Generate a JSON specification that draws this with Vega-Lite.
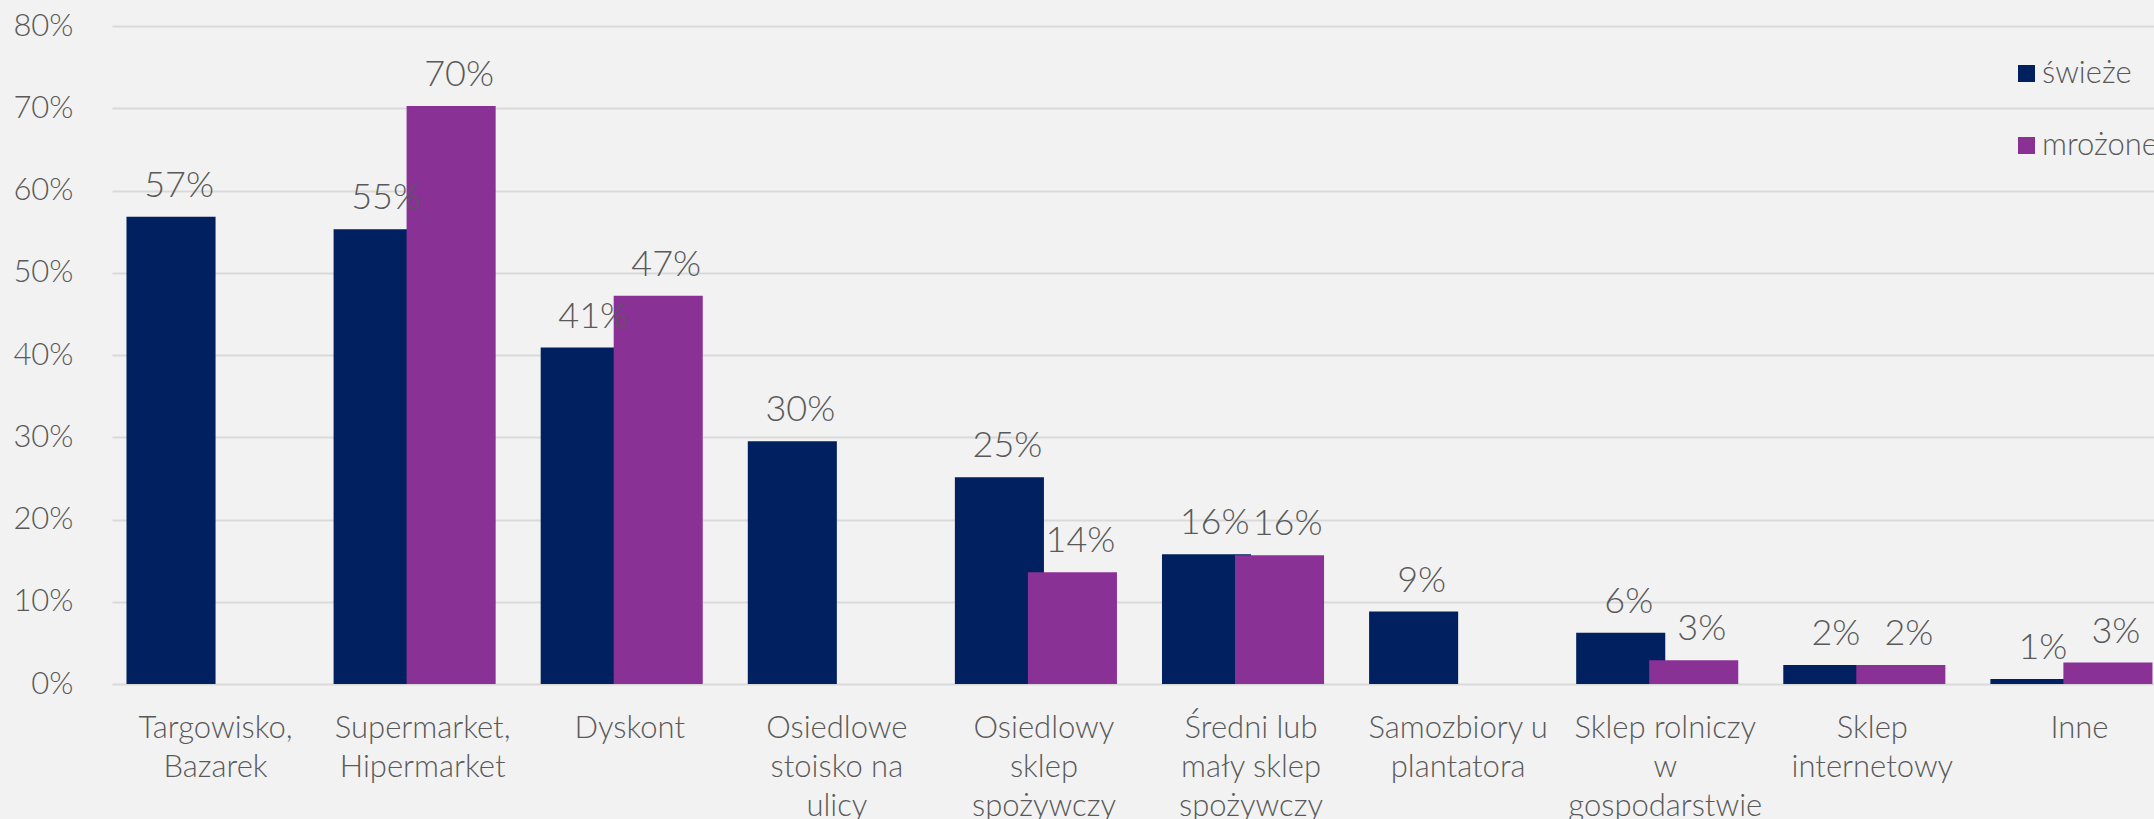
{
  "$schema": "https://vega.github.io/schema/vega-lite/v6.json",
  "autosize": {"type": "none"},
  "padding": {"left": 105, "top": 26, "right": 0, "bottom": 135},
  "width": 2049,
  "height": 658,
  "background": "#f2f2f2",
  "config": {
    "view": {"stroke": null},
    "font": "'Lato Light', Lato",
    "text": {"font": "'Lato Light', Lato"}
  },
  "data": {
    "values": [
      {"kategoria": "Targowisko,\nBazarek", "seria": "świeże", "udzial": 0.568},
      {"kategoria": "Supermarket,\nHipermarket", "seria": "świeże", "udzial": 0.553},
      {"kategoria": "Dyskont", "seria": "świeże", "udzial": 0.409},
      {"kategoria": "Osiedlowe\nstoisko na\nulicy", "seria": "świeże", "udzial": 0.295},
      {"kategoria": "Osiedlowy\nsklep\nspożywczy", "seria": "świeże", "udzial": 0.2515},
      {"kategoria": "Średni lub\nmały sklep\nspożywczy", "seria": "świeże", "udzial": 0.1577},
      {"kategoria": "Samozbiory u\nplantatora", "seria": "świeże", "udzial": 0.088},
      {"kategoria": "Sklep rolniczy\nw\ngospodarstwie", "seria": "świeże", "udzial": 0.0624},
      {"kategoria": "Sklep\ninternetowy", "seria": "świeże", "udzial": 0.023},
      {"kategoria": "Inne", "seria": "świeże", "udzial": 0.006},
      {"kategoria": "Supermarket,\nHipermarket", "seria": "mrożone", "udzial": 0.7026},
      {"kategoria": "Dyskont", "seria": "mrożone", "udzial": 0.472},
      {"kategoria": "Osiedlowy\nsklep\nspożywczy", "seria": "mrożone", "udzial": 0.136},
      {"kategoria": "Średni lub\nmały sklep\nspożywczy", "seria": "mrożone", "udzial": 0.1565},
      {"kategoria": "Sklep rolniczy\nw\ngospodarstwie", "seria": "mrożone", "udzial": 0.029},
      {"kategoria": "Sklep\ninternetowy", "seria": "mrożone", "udzial": 0.023},
      {"kategoria": "Inne", "seria": "mrożone", "udzial": 0.026}
    ]
  },
  "encoding": {
    "x": {
      "field": "kategoria",
      "type": "nominal",
      "sort": null,
      "scale": {"range": [7, 2078], "paddingInner": 0.295, "paddingOuter": 0.1475},
      "axis": {
        "title": null,
        "labelAngle": 0,
        "labelExpr": "split(datum.value, '\\n')",
        "labelFont": "'Lato Light', Lato",
        "labelFontWeight": 300,
        "labelFontSize": 31,
        "labelColor": "#595959",
        "labelLineHeight": 39,
        "labelPadding": 29,
        "labelBaseline": "top",
        "labelLimit": 0,
        "labelOverlap": false,
        "domain": false,
        "ticks": false,
        "grid": false
      }
    },
    "xOffset": {
      "field": "seria",
      "type": "nominal",
      "scale": {"domain": ["świeże", "mrożone"]}
    },
    "y": {
      "field": "udzial",
      "type": "quantitative",
      "scale": {"domain": [0, 0.8]},
      "axis": {
        "title": null,
        "format": ".0%",
        "values": [0, 0.1, 0.2, 0.3, 0.4, 0.5, 0.6, 0.7, 0.8],
        "labelOverlap": false,
        "labelFont": "'Lato Light', Lato",
        "labelFontWeight": 300,
        "labelFontSize": 31,
        "labelColor": "#595959",
        "labelPadding": 32,
        "domain": false,
        "ticks": false,
        "gridColor": "#d9d9d9",
        "gridWidth": 2
      }
    }
  },
  "layer": [
    {
      "mark": {"type": "bar", "width": {"band": 1.22}},
      "encoding": {
        "color": {
          "field": "seria",
          "type": "nominal",
          "scale": {"domain": ["świeże", "mrożone"], "range": ["#002060", "#8a3196"]},
          "legend": {
            "title": null,
            "orient": "none",
            "legendX": 1906,
            "legendY": 32,
            "padding": 0,
            "symbolType": "square",
            "symbolSize": 289,
            "symbolStrokeWidth": 0,
            "labelFont": "'Lato Light', Lato",
            "labelFontWeight": 300,
            "labelFontSize": 31,
            "labelColor": "#595959",
            "labelOffset": 0,
            "labelLimit": 0,
            "rowPadding": 40
          }
        }
      }
    },
    {
      "mark": {"type": "text", "align": "center", "baseline": "alphabetic", "dy": -20, "font": "'Lato Light', Lato", "fontWeight": 300, "fontSize": 36, "color": "#595959"},
      "encoding": {
        "text": {"field": "udzial", "type": "quantitative", "format": ".0%"}
      }
    }
  ]
}
